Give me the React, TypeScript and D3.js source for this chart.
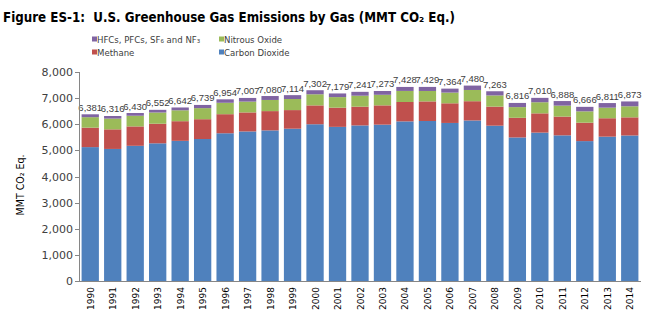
import React from 'react';
import * as d3 from 'd3';

const years = ['1990','1991','1992','1993','1994','1995','1996','1997','1998','1999','2000','2001','2002','2003','2004','2005','2006','2007','2008','2009','2010','2011','2012','2013','2014'];
const carbonDioxide = [5125,5055,5175,5270,5365,5435,5655,5725,5765,5830,6000,5900,5955,5985,6110,6125,6050,6145,5945,5495,5680,5575,5355,5525,5570];
const methane = [745,750,742,750,752,758,730,728,738,712,722,735,718,738,742,750,752,737,730,752,737,718,705,705,695];
const nitrousOxide = [401,411,409,429,417,424,437,414,427,424,425,404,420,405,424,399,410,430,428,409,425,420,434,405,423];
const fluorinated = [110,100,104,103,108,122,132,140,150,148,155,140,148,145,152,155,152,168,160,160,168,175,172,176,185];
const totals = [6381,6316,6430,6552,6642,6739,6954,7007,7080,7114,7302,7179,7241,7273,7428,7429,7364,7480,7263,6816,7010,6888,6666,6811,6873];
const yTicks = [0,1000,2000,3000,4000,5000,6000,7000,8000];

const keys = ['co2','ch4','n2o','hfc'];
const colors: Record<string,string> = { co2: '#4F81BD', ch4: '#C0504D', n2o: '#9BBB59', hfc: '#8064A2' };

export default function App() {
  const W = 663, H = 330;
  const x = d3.scaleBand<string>().domain(years).range([79, 641]).paddingInner(0.23).paddingOuter(0.115);
  const y = d3.scaleLinear().domain([0, 8000]).range([281, 72]);
  const rows = years.map((yr, i) => ({ year: yr, co2: carbonDioxide[i], ch4: methane[i], n2o: nitrousOxide[i], hfc: fluorinated[i] }));
  const series = d3.stack<any>().keys(keys)(rows);
  const fmt = d3.format(',');
  const axisColor = '#868686';
  const textColor = '#404040';
  const legFont = '"DejaVu Sans Condensed", "DejaVu Sans", sans-serif';

  return (
    <svg width={W} height={H} style={{ position: 'absolute', left: 0, top: 0, background: '#fff' }}>
      <text x={3} y={22} fontFamily={legFont} fontWeight="bold" fontSize={13.5} fill="#000" textLength={452} lengthAdjust="spacingAndGlyphs">
        {'Figure ES-1:\u00a0\u00a0U.S. Greenhouse Gas Emissions by Gas (MMT CO\u2082 Eq.)'}
      </text>

      {/* legend */}
      <g fontFamily={legFont} fontSize={9.5} fill={textColor}>
        <rect x={92} y={36.5} width={5} height={5} fill={colors.hfc} />
        <text x={97} y={42.5}>{'HFCs, PFCs, SF\u2086 and NF\u2083'}</text>
        <rect x={92} y={49.5} width={5} height={5} fill={colors.ch4} />
        <text x={97} y={55.5}>Methane</text>
        <rect x={219} y={36.5} width={5} height={5} fill={colors.n2o} />
        <text x={224} y={42.5}>Nitrous Oxide</text>
        <rect x={219} y={49.5} width={5} height={5} fill={colors.co2} />
        <text x={224} y={55.5}>Carbon Dioxide</text>
      </g>

      {/* bars */}
      {series.map(s => (
        <g key={s.key} fill={colors[s.key]}>
          {s.map((d, i) => (
            <rect key={i} x={x(years[i])} y={y(d[1])} width={x.bandwidth()} height={y(d[0]) - y(d[1])} />
          ))}
        </g>
      ))}

      {/* total labels */}
      <g fontFamily='"Liberation Sans Narrow", "Liberation Sans", sans-serif' fontSize={9.5} fill={textColor} textAnchor="middle">
        {totals.map((t, i) => (
          <text key={i} x={(x(years[i]) as number) + x.bandwidth() / 2} y={y(t) - 3.5}>{fmt(t)}</text>
        ))}
      </g>

      {/* y axis */}
      <line x1={79.5} x2={79.5} y1={y(8000)} y2={y(0)} stroke={axisColor} />
      {yTicks.map(t => (
        <g key={t}>
          <line x1={75} x2={79.5} y1={Math.round(y(t)) + 0.5} y2={Math.round(y(t)) + 0.5} stroke={axisColor} />
          <text x={73} y={y(t) + 4} textAnchor="end" fontFamily='"DejaVu Sans", sans-serif' fontSize={11} fill={textColor}>{fmt(t)}</text>
        </g>
      ))}
      <text transform="translate(24,185) rotate(-90)" textAnchor="middle" fontFamily='"DejaVu Sans Condensed", "DejaVu Sans", sans-serif' fontSize={10.5} fill="#000">
        {'MMT CO\u2082 Eq.'}
      </text>

      {/* x axis */}
      <line x1={79} x2={641} y1={281.5} y2={281.5} stroke={axisColor} />
      {years.map(yr => (
        <text key={yr} transform={`translate(${(x(yr) as number) + x.bandwidth() / 2 + 3.5},287) rotate(-90)`} textAnchor="end" fontFamily='"DejaVu Sans", sans-serif' fontSize={9} fill="#000">{yr}</text>
      ))}
    </svg>
  );
}
